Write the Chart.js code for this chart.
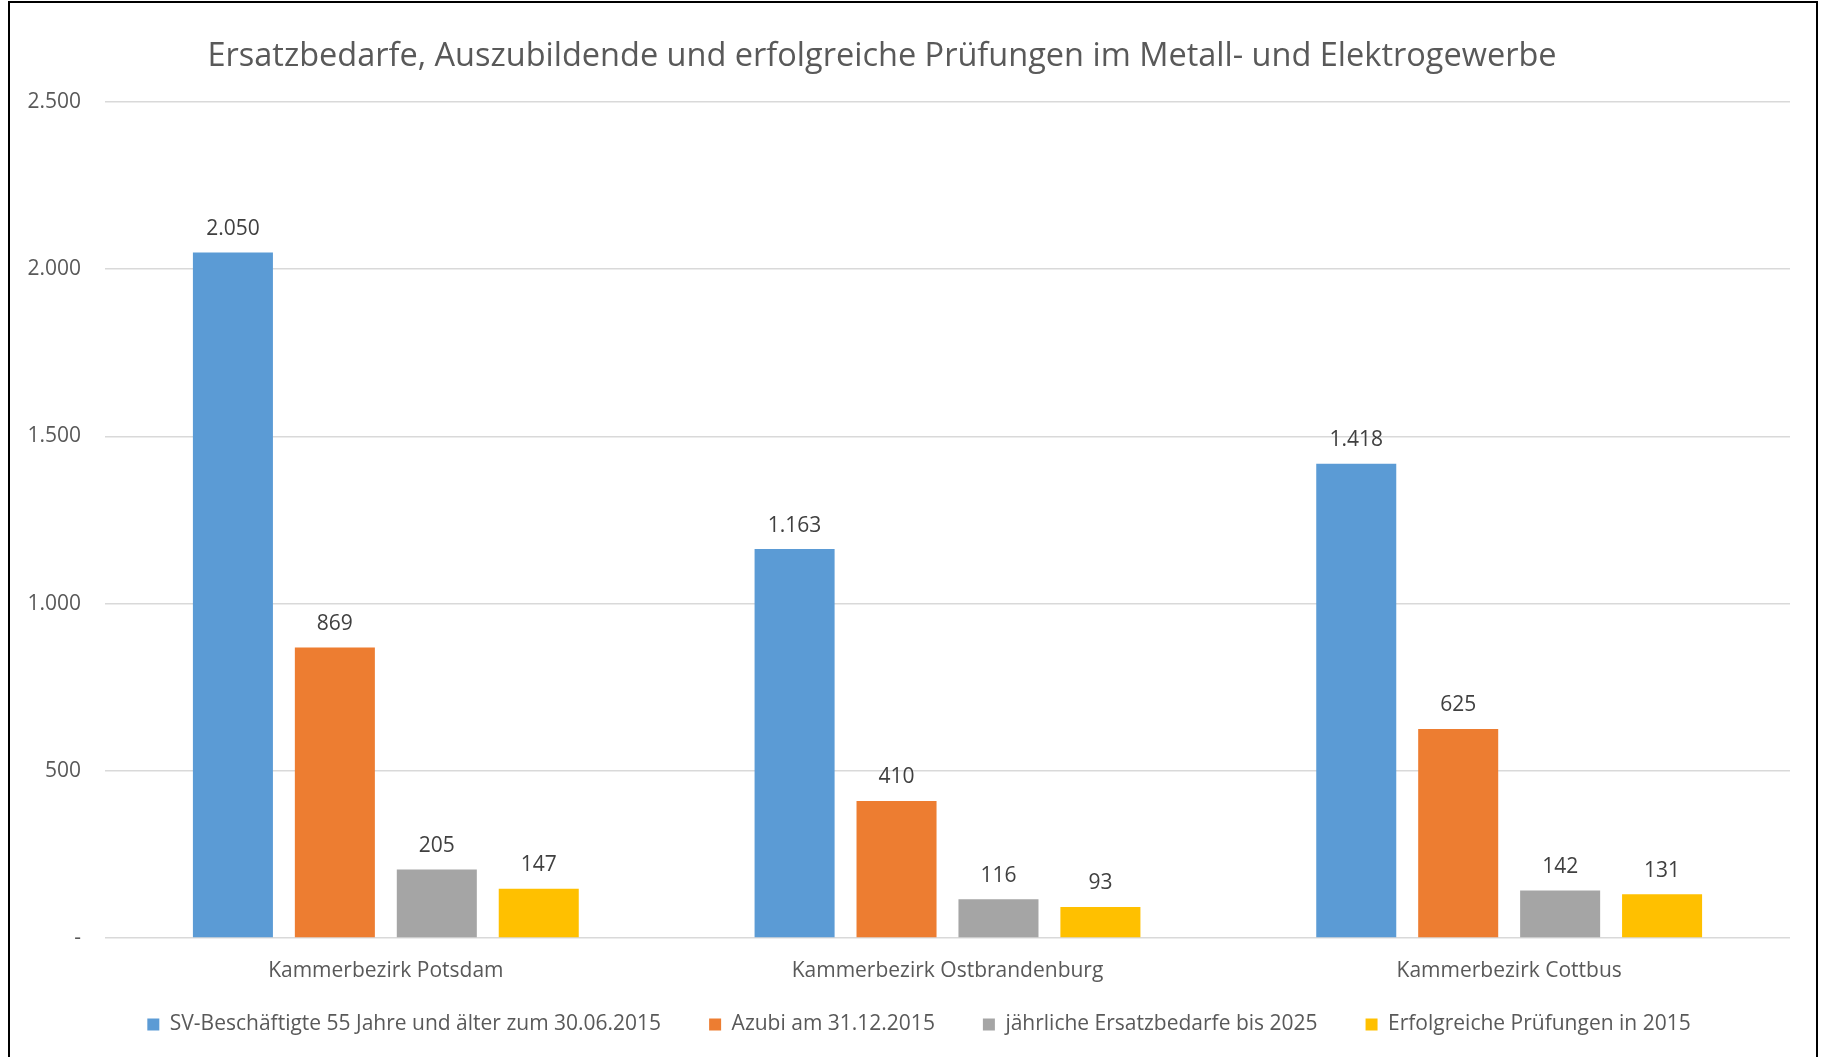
<!DOCTYPE html>
<html>
<head>
<meta charset="utf-8">
<script src="https://cdn.jsdelivr.net/npm/chart.js"></script>
<style>
    html, body { margin: 0; padding: 0; background: #fff; overflow: hidden; }
    #wrap { position: relative; width: 1825px; height: 1057px; }
    #myChart { position: absolute; left: 0; top: 0; }
    #frame { position: absolute; left: 8px; top: 1px; width: 1806px; height: 1100px; border: 2px solid #000; pointer-events: none; }
</style>
</head>
<body>
<div id="wrap">
    <canvas id="myChart" width="1825" height="1057"></canvas>
    <div id="frame"></div>
</div>
<script>
const chartTitle = 'Ersatzbedarfe, Auszubildende und erfolgreiche Prüfungen im Metall- und Elektrogewerbe';
const categories = ['Kammerbezirk Potsdam', 'Kammerbezirk Ostbrandenburg', 'Kammerbezirk Cottbus'];
const seriesNames = [
    'SV-Beschäftigte 55 Jahre und älter zum 30.06.2015',
    'Azubi am 31.12.2015',
    'jährliche Ersatzbedarfe bis 2025',
    'Erfolgreiche Prüfungen in 2015'
];
const svBeschaeftigte = [2050, 1163, 1418];
const azubis = [869, 410, 625];
const ersatzbedarfe = [205, 116, 142];
const pruefungen = [147, 93, 131];
const yTicks = [0, 500, 1000, 1500, 2000, 2500];
const seriesColors = ['#5B9BD5', '#ED7D31', '#A5A5A5', '#FFC000'];

const fontFamily = '"Open Sans", "Noto Sans", sans-serif';

// 2050 -> "2.050", 0 -> "-"
function formatNumber(v) {
    if (v === 0) return '-';
    return String(v).replace(/\B(?=(\d{3})+(?!\d))/g, '.');
}

// title drawn by hand so it can sit left of centre like the original
const titlePlugin = {
    id: 'ownTitle',
    beforeDraw(chart) {
        const ctx = chart.ctx;
        ctx.save();
        ctx.font = '32.5px ' + fontFamily;
        ctx.fillStyle = '#595959';
        ctx.textAlign = 'center';
        ctx.textBaseline = 'middle';
        ctx.fillText(chartTitle, 882, 57);
        ctx.restore();
    }
};

// value labels above the bars
const valueLabels = {
    id: 'valueLabels',
    afterDatasetsDraw(chart) {
        const ctx = chart.ctx;
        ctx.save();
        ctx.font = '21px ' + fontFamily;
        ctx.fillStyle = '#404040';
        ctx.textAlign = 'center';
        ctx.textBaseline = 'middle';
        chart.data.datasets.forEach((ds, i) => {
            chart.getDatasetMeta(i).data.forEach((bar, j) => {
                ctx.fillText(formatNumber(ds.data[j]), bar.x, bar.y - 23.5);
            });
        });
        ctx.restore();
    }
};

// move the legend row to where the original has it
const legendPlace = {
    id: 'legendPlace',
    afterLayout(chart) {
        const lg = chart.legend;
        lg.left = 48;
        lg.right = 1790;
        lg.width = lg.right - lg.left;
        lg.top = 966;
        lg.height = 82;
        lg.bottom = lg.top + lg.height;
    }
};

const allSeries = [svBeschaeftigte, azubis, ersatzbedarfe, pruefungen];

var ctx = document.getElementById('myChart').getContext('2d');
var myChart = new Chart(ctx, {
    type: 'bar',
    data: {
        labels: categories,
        datasets: allSeries.map((values, i) => ({
            label: seriesNames[i],
            data: values,
            backgroundColor: seriesColors[i],
            borderWidth: 0,
            categoryPercentage: 0.726,
            barPercentage: 0.785
        }))
    },
    options: {
        responsive: false,
        animation: false,
        layout: {
            padding: { top: 102, left: 20, right: 35, bottom: 0 }
        },
        plugins: {
            title: { display: false },
            tooltip: { enabled: false },
            legend: {
                display: true,
                position: 'bottom',
                maxHeight: 74,
                labels: {
                    boxWidth: 12,
                    boxHeight: 12,
                    padding: 48,
                    color: '#595959',
                    font: { family: fontFamily, size: 21 }
                }
            }
        },
        scales: {
            x: {
                grid: { display: false, drawTicks: false },
                border: { display: false },
                ticks: {
                    padding: 20,
                    color: '#595959',
                    font: { family: fontFamily, size: 21 }
                },
                afterFit(scale) { scale.height = 45; }
            },
            y: {
                min: 0,
                max: 2500,
                afterBuildTicks(scale) {
                    scale.ticks = yTicks.map(v => ({ value: v }));
                },
                grid: { color: '#D9D9D9', lineWidth: 1.5, drawTicks: false },
                border: { display: false },
                ticks: {
                    padding: 24,
                    color: '#595959',
                    font: { family: fontFamily, size: 21 },
                    callback: v => formatNumber(v)
                },
                afterFit(scale) { scale.width = 85; }
            }
        }
    },
    plugins: [titlePlugin, valueLabels, legendPlace]
});
</script>
</body>
</html>
